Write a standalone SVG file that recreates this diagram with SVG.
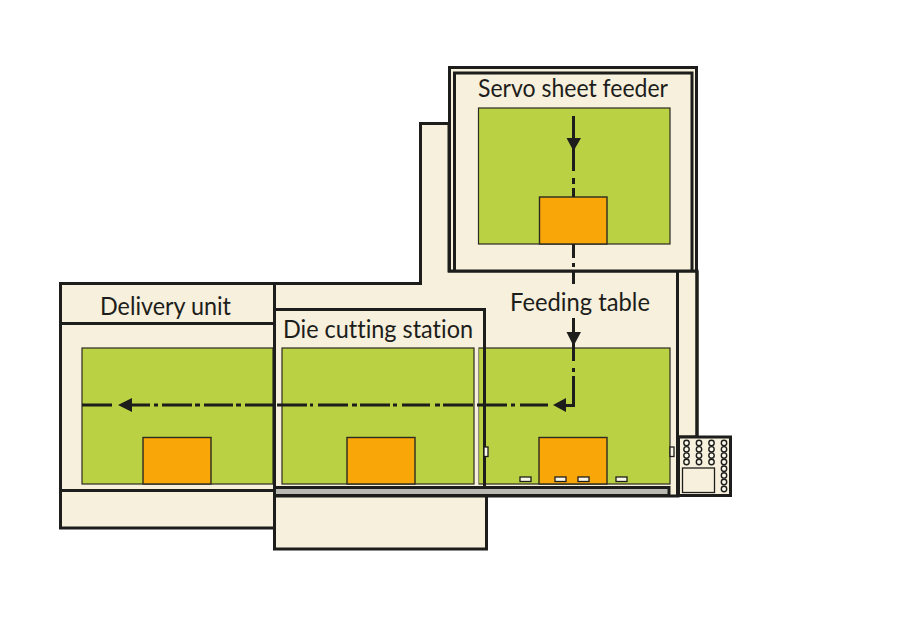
<svg xmlns="http://www.w3.org/2000/svg" width="906" height="618" viewBox="0 0 906 618">
<defs>
<style>
.b{fill:#f6f0dc;stroke:#1d1d1b;stroke-width:3}
.l{fill:none;stroke:#1d1d1b;stroke-width:3}
.g{fill:#bbd144;stroke:#2b2b20;stroke-width:1.2}
.o{fill:#f9a608;stroke:#2b2b20;stroke-width:1.4}
.w{fill:#fbf8ea;stroke:#1d1d1b;stroke-width:1.3}
.c{fill:#fbf8ea;stroke:#1d1d1b;stroke-width:1.4}
.f{fill:none;stroke:#1d1d1b;stroke-width:3}
.a{fill:#1d1d1b;stroke:none}
text{font-family:Lato,"Open Sans","Liberation Sans",sans-serif;font-size:25px;fill:#1d1d1b;font-variant-ligatures:none}
</style>
</defs>
<rect width="906" height="618" fill="#fff"/>
<g id="feeding-table">
<path class="b" d="M420.500 123.500H449V271H697V437H678V496H274V283.500H420.500Z"/>
<path class="l" d="M677.500 271V496"/>
<path class="l" d="M697 271V437"/>
<rect class="g" x="478.500" y="348" width="191.500" height="136"/>
<rect class="o" x="539" y="437.500" width="68" height="46.500"/>
<rect class="w" x="520" y="477" width="11" height="4.500"/>
<rect class="w" x="555" y="477" width="11" height="4.500"/>
<rect class="w" x="578" y="477" width="11" height="4.500"/>
<rect class="w" x="616" y="477" width="11" height="4.500"/>
<rect class="w" x="670" y="447" width="4" height="9.500"/>
<rect x="275" y="489" width="393" height="5" fill="#b9b8b2"/>
<path class="l" d="M274 487.500H669V495.500H274"/>
<text x="510" y="311" textLength="140" lengthAdjust="spacingAndGlyphs">Feeding table</text>
</g>
<g id="delivery-unit">
<rect class="b" x="60.500" y="283.500" width="214" height="244.500"/>
<path class="l" d="M60.500 323.500H274M60.500 490.500H274"/>
<rect class="g" x="82" y="348" width="191" height="136"/>
<rect class="o" x="143" y="437.500" width="68" height="46.500"/>
<text x="100" y="315" textLength="131" lengthAdjust="spacingAndGlyphs">Delivery unit</text>
</g>
<g id="die-cutting-station">
<rect x="275" y="310" width="203.500" height="176" fill="#f6f0dc"/>
<rect x="478.500" y="310" width="6" height="37" fill="#f6f0dc"/>
<path class="l" d="M274.500 486V309.500H484.500V486"/>
<path class="b" d="M274.500 496H486.500V549H274.500Z"/>
<rect class="g" x="282" y="348" width="192" height="136"/>
<rect class="o" x="347" y="437.500" width="68" height="46.500"/>
<rect class="w" x="484" y="447" width="4" height="9.500"/>
<text x="283" y="338" textLength="190" lengthAdjust="spacingAndGlyphs">Die cutting station</text>
</g>
<g id="servo-sheet-feeder">
<rect class="b" x="449.500" y="67.500" width="247" height="203.500"/>
<path class="l" d="M454.500 271V73H692V271"/>
<rect class="g" x="478.500" y="108" width="191.500" height="136"/>
<rect class="o" x="539.500" y="197" width="67.500" height="47"/>
<text x="478" y="97" textLength="190" lengthAdjust="spacingAndGlyphs">Servo sheet feeder</text>
</g>
<g id="console">
<rect class="b" x="678.500" y="437" width="52" height="58.500"/>
<g class="circles">
<circle class="c" cx="686.500" cy="443" r="2.700"/><circle class="c" cx="686.500" cy="449.300" r="2.700"/><circle class="c" cx="686.500" cy="455.600" r="2.700"/><circle class="c" cx="686.500" cy="462" r="2.700"/>
<circle class="c" cx="699" cy="443" r="2.700"/><circle class="c" cx="699" cy="449.300" r="2.700"/><circle class="c" cx="699" cy="455.600" r="2.700"/><circle class="c" cx="699" cy="462" r="2.700"/>
<circle class="c" cx="711.500" cy="443" r="2.700"/><circle class="c" cx="711.500" cy="449.300" r="2.700"/><circle class="c" cx="711.500" cy="455.600" r="2.700"/><circle class="c" cx="711.500" cy="462" r="2.700"/>
<circle class="c" cx="724" cy="443" r="2.700"/><circle class="c" cx="724" cy="449.300" r="2.700"/><circle class="c" cx="724" cy="455.600" r="2.700"/><circle class="c" cx="724" cy="462" r="2.700"/><circle class="c" cx="724" cy="468.700" r="2.700"/><circle class="c" cx="724" cy="475.400" r="2.700"/><circle class="c" cx="724" cy="482" r="2.700"/><circle class="c" cx="724" cy="489" r="2.700"/>
</g>
<rect x="682.500" y="468" width="32" height="24.500" fill="#f6f0dc" stroke="#1d1d1b" stroke-width="1.300"/>
</g>
<g id="connectors">
<path class="f" d="M573.500 116V171M573.500 178V184M573.500 188V197"/>
<path class="f" d="M573.500 244V258M573.500 263V267M573.500 272V284"/>
<path class="f" d="M573.500 318V361M573.500 368V372M573.500 376V405.500H560"/>
<path class="f" d="M548 405H520M515 405H511M507 405H477M473 405H443M440 405H435M430 405H402M397 405H393M390 405H360M357 405H352M348 405H318M313 405H310M307 405H277M274 405H245M241 405H236M233 405H204M200 405H195M192 405H162M158 405H154M150 405H122M112 405H82"/>
<polygon class="a" points="566.500,138 581,138 573.500,151"/>
<polygon class="a" points="566.500,332 581,332 573.500,346"/>
<polygon class="a" points="566,398 566,412 553,405"/>
<polygon class="a" points="132,398 132,412 118,405"/>
</g>
</svg>
